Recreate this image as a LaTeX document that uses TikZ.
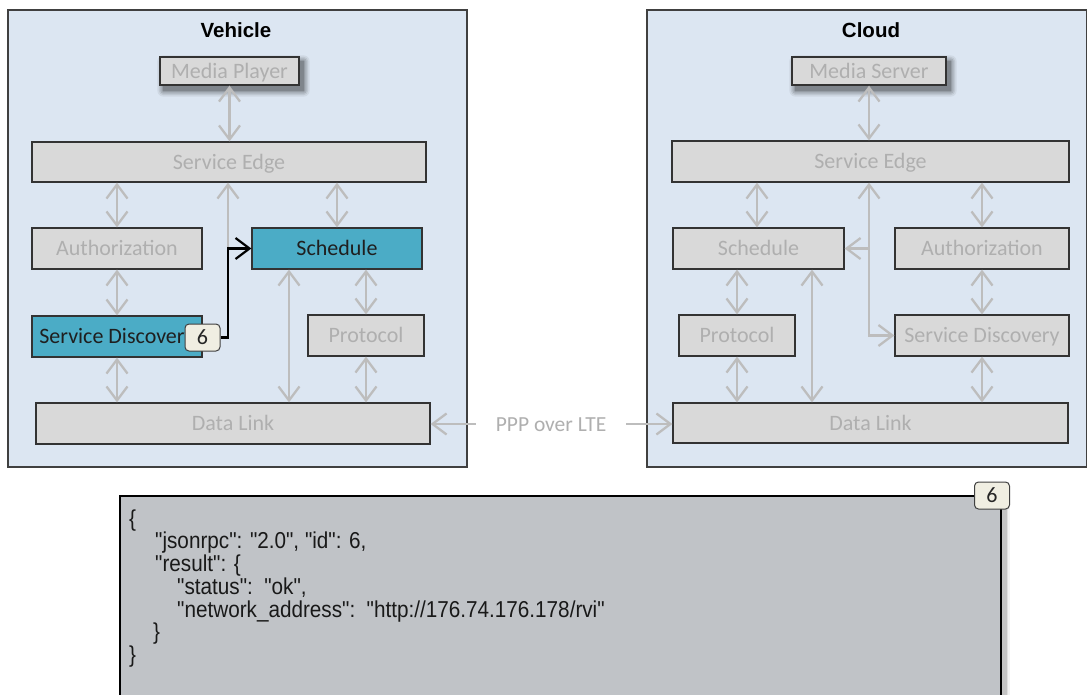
\documentclass[tikz,border=0pt]{standalone}
\usepackage{fontspec}
\setmainfont{Carlito}
\newfontfamily\titlefont{Liberation Sans}
\newfontfamily\codefont[FakeStretch=0.9]{Liberation Sans}
\usetikzlibrary{arrows.meta}

\definecolor{panel}{HTML}{DCE6F2}
\definecolor{panelrule}{HTML}{404040}
\definecolor{boxfill}{HTML}{D9D9D9}
\definecolor{dimtext}{HTML}{AFAFAF}
\definecolor{linkgray}{HTML}{BDBDBD}
\definecolor{activefill}{HTML}{4BACC6}
\definecolor{badgefill}{HTML}{F0EEE2}
\definecolor{codefill}{HTML}{C0C3C7}

\pgfdeclarelayer{base}
\pgfdeclarelayer{shade}
\pgfsetlayers{base,shade,main}

\tikzset{
  panelbox/.style={fill=panel, draw=panelrule, line width=1.5pt, inner sep=0pt, anchor=north west},
  layer/.style={draw=black!80, line width=1.3pt, fill=boxfill, text=dimtext, inner sep=0pt,
                text height=14pt, text depth=0pt, font=\fontsize{22}{26}\selectfont},
  active/.style={layer, fill=activefill, text=black!88},
  badge/.style={draw=black!75, line width=1pt, fill=badgefill, rounded corners=4pt,
                minimum width=35pt, minimum height=27pt, inner sep=0pt,
                text height=14pt, text depth=0pt, font=\fontsize{22}{26}\selectfont, text=black!85},
  title/.style={font=\titlefont\bfseries\fontsize{20.5}{24}\selectfont, text height=14.5pt, text depth=0pt, inner sep=0pt},
  flow/.style={draw=linkgray, line width=2.3pt},
  signal/.style={draw=black, line width=2.2pt, ->},
  codebox/.style={draw=black, line width=2pt, fill=codefill, anchor=north west, inner sep=0pt},
}

\begin{document}
\begin{tikzpicture}[x=1pt, y=-1pt, >={Straight Barb[length=14pt,width=21pt]}]
\useasboundingbox (0,0) rectangle (1087,694);
\clip (0,0) rectangle (1087,694);

% ---------- the two domains ----------
\begin{pgfonlayer}{base}
\fill[white] (0,0) rectangle (1087,694);
\node[panelbox, minimum width=459pt, minimum height=457pt] (vehicle) at (7,9) {};
\node[panelbox, minimum width=440pt, minimum height=457pt] (cloud) at (646,9) {};
\end{pgfonlayer}
\node[title] (vtitle) at (236,30) {Vehicle};
\node[title] (ctitle) at (871,30) {Cloud};

% ---------- vehicle stack ----------
\node[layer, minimum width=139pt, minimum height=28pt] (vmp) at (229.5,71) {Media Player};
\node[layer, minimum width=394pt, minimum height=40pt] (vse) at (229,162) {Service Edge};
\node[layer, minimum width=170pt, minimum height=41pt] (vauth) at (117,248.5) {Authorization};
\node[active, minimum width=170pt, minimum height=41pt] (vsched) at (337,248.5) {Schedule};
\node[active, minimum width=170pt, minimum height=41pt] (vsd) at (117,336.5) {Service Discovery};
\node[layer, minimum width=116pt, minimum height=41pt] (vproto) at (366,335.5) {Protocol};
\node[layer, minimum width=394pt, minimum height=41pt] (vdl) at (233,423.5) {Data Link};

% ---------- cloud stack ----------
\node[layer, minimum width=154pt, minimum height=28pt] (cms) at (869,71) {Media Server};
\node[layer, minimum width=397pt, minimum height=41pt] (cse) at (870.5,161.5) {Service Edge};
\node[layer, minimum width=171pt, minimum height=41pt] (csched) at (758.5,248.5) {Schedule};
\node[layer, minimum width=174pt, minimum height=41pt] (cauth) at (982,248.5) {Authorization};
\node[layer, minimum width=116pt, minimum height=41pt] (cproto) at (737,335.5) {Protocol};
\node[layer, minimum width=174pt, minimum height=41pt] (csd) at (982,335.5) {Service Discovery};
\node[layer, minimum width=395pt, minimum height=40pt] (cdl) at (870.5,423) {Data Link};

% soft shadows under the media boxes
\begin{pgfonlayer}{shade}
\foreach \n in {vmp,cms}{
  \foreach \d/\o in {6/0.06,4.5/0.08,3/0.10,1.5/0.12,0/0.14}{
    \fill[black, opacity=\o, rounded corners=\d pt]
      ([shift={(4-\d,5+\d)}]\n.south west) rectangle ([shift={(4+\d,5-\d)}]\n.north east);
  }
}
\end{pgfonlayer}

% ---------- vehicle links ----------
\draw[flow,<->] (vmp.south) -- (vmp.south |- vse.north);
\draw[flow,<->] (vauth.north) -- (vauth.north |- vse.south);
\draw[flow,<->] (vsched.north) -- (vsched.north |- vse.south);
\draw[flow,<->] (vauth.south) -- (vauth.south |- vsd.north);
\draw[flow,<->] (vproto.north) -- (vproto.north |- vsched.south);
\coordinate (vsdl) at ([xshift=-48pt]vsched.south);
\draw[flow,<->] (vsdl) -- (vsdl |- vdl.north);
\draw[flow,<->] (vsd.south) -- (vsd.south |- vdl.north);
\draw[flow,<->] (vproto.south) -- (vproto.south |- vdl.north);
\coordinate (vj) at ([xshift=-1pt]vse.south |- vsched.west);
\draw[flow,->] (vj) -- (vj |- vse.south);

% ---------- cloud links ----------
\draw[flow,<->] (cms.south) -- (cms.south |- cse.north);
\coordinate (csc) at ([xshift=-1.5pt]csched.north);
\draw[flow,<->] (csc) -- (csc |- cse.south);
\draw[flow,<->] (cauth.north) -- (cauth.north |- cse.south);
\draw[flow,<->] (cproto.north) -- (cproto.north |- csched.south);
\coordinate (csdl) at ([xshift=53.5pt]csched.south);
\draw[flow,<->] (csdl) -- (csdl |- cdl.north);
\draw[flow,<->] (cauth.south) -- (cauth.south |- csd.north);
\draw[flow,<->] (cproto.south) -- (cproto.south |- cdl.north);
\draw[flow,<->] (csd.south) -- (csd.south |- cdl.north);
\coordinate (cj) at (cms.south |- csched.east);
\draw[flow,<->] (cj |- cse.south) -- (cj) |- (csd.west);
\draw[flow,->] (cj) -- (csched.east);

% ---------- link between the domains ----------
\node[font=\fontsize{21.5}{25}\selectfont, text=dimtext, inner xsep=20pt, inner ysep=0pt,
      text height=14pt, text depth=0pt] (ppp) at (551,424) {PPP over LTE};
\draw[flow,->] (ppp.west) -- (ppp.west -| vdl.east);
\draw[flow,->] (ppp.east) -- (ppp.east -| cdl.west);

% ---------- message 6 ----------
\node[badge] (vbadge) at (202.5,337.5) {6};
\draw[signal] (vbadge.east) -| (vj) -- (vsched.west);

\node[codebox, minimum width=881pt, minimum height=230pt] (code) at (119,495) {};
\begin{pgfonlayer}{shade}
\foreach \d/\o in {4/0.05,2.5/0.08,1/0.12}{
  \fill[black, opacity=\o]
    ([shift={(3.5-\d,3.5+\d)}]code.south west) rectangle ([shift={(3.5+\d,3.5-\d)}]code.north east);
}
\end{pgfonlayer}
\node[anchor=base west, inner sep=0pt, text=black!90] (codetext) at (129,526)
  {\codefont\fontsize{23}{20.4}\selectfont
   \begin{tabular}[t]{@{}l@{}}
   \{\\
   \hspace*{26pt}"jsonrpc": "2.0", "id": 6,\\
   \hspace*{26pt}"result": \{\\
   \hspace*{48pt}"status":~~"ok",\\
   \hspace*{48pt}"network\_address":~~"http://176.74.176.178/rvi"\\
   \hspace*{24pt}\}\\
   \}
   \end{tabular}};
\node[badge] (cbadge) at (992,495.5) {6};
\end{tikzpicture}
\end{document}
